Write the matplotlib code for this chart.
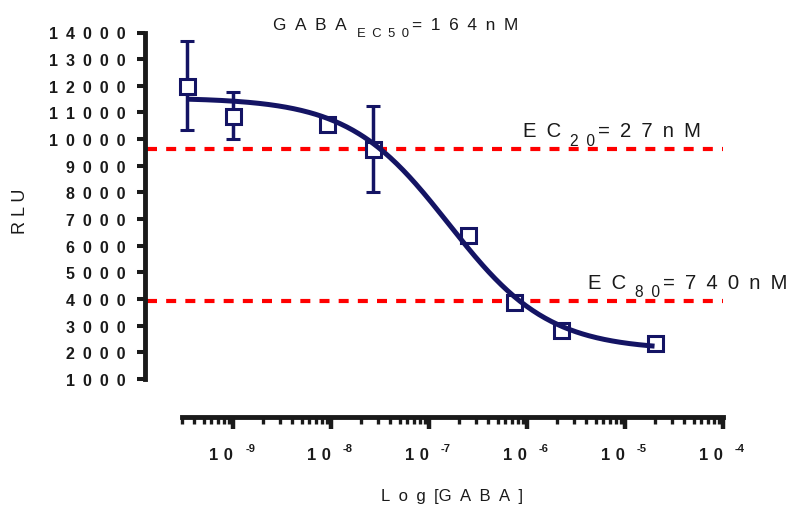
import numpy as np
import matplotlib
matplotlib.use("Agg")
import matplotlib.pyplot as plt
from matplotlib.ticker import LogLocator, NullFormatter

# данные: концентрация GABA (M) и сигнал RLU
conc = [3.4e-10, 1.0e-9, 9.1e-9, 2.7e-8, 2.5e-7, 7.4e-7, 2.2e-6, 2.0e-5]
rlu = [12000, 10870, 10570, 9630, 6400, 3890, 2840, 2350]
rlu_err = [1670, 880, 150, 1630, 200, 150, 100, 120]

# параметры кривой (4PL) с картинки
fit_top = 11550
fit_bottom = 2080
fit_log_ic50 = -6.80
fit_hill = 0.85

ec20_level = 9630
ec80_level = 3940

y_ticks = list(range(1000, 15000, 1000))
x_ticks = [1e-9, 1e-8, 1e-7, 1e-6, 1e-5, 1e-4]

NAVY = "#141464"
RED = "#ff0000"
INK = "#1a1a1a"
EN = "\u2002"

plt.rcParams["font.family"] = ["Liberation Sans", "DejaVu Sans"]


def spaced(s, gap=EN):
    return gap.join(s)


fig = plt.figure(figsize=(7.91, 5.06), dpi=100)
ax = fig.add_axes([182 / 791, 126 / 506, 541 / 791, 346.5 / 506])


def write_parts(x, y, parts):
    # parts: (текст, размер, отступ слева px, сдвиг по вертикали px)
    prev, prev_dy = None, 0
    for text, size, gap, dy in parts:
        if prev is None:
            prev = fig.text(x, y, text, fontsize=size, color=INK,
                            ha="left", va="baseline")
        else:
            prev = ax.annotate(text, xy=(1, 0), xycoords=prev,
                               xytext=(gap * 0.72, (dy - prev_dy) * 0.72),
                               textcoords="offset points",
                               fontsize=size, color=INK, ha="left", va="bottom")
        prev_dy = dy


# пунктирные уровни EC20 / EC80
for lvl in (ec20_level, ec80_level):
    ax.axhline(lvl, xmin=-0.065, xmax=1.0, color=RED, lw=3,
               ls=(0, (2.4, 2.2)), clip_on=False, zorder=1)

# точки с ошибками
ax.errorbar(conc, rlu, yerr=rlu_err, fmt="none", ecolor=NAVY,
            elinewidth=2.5, capsize=5, capthick=2.2, zorder=2, clip_on=False)
ax.plot(conc, rlu, ls="none", marker="s", ms=10.8, mew=2.2,
        mfc="white", mec=NAVY, zorder=3, clip_on=False)

# аппроксимирующая кривая
xs = np.logspace(np.log10(conc[0]), np.log10(conc[-1]), 300)
ys = fit_bottom + (fit_top - fit_bottom) / (1 + 10 ** (fit_hill * (np.log10(xs) - fit_log_ic50)))
ax.plot(xs, ys, color=NAVY, lw=3.6, zorder=4, solid_capstyle="butt")

# оси
ax.set_xscale("log")
ax.set_xlim(3.0e-10, 1e-4)
ax.set_ylim(1000, 14000)
for s in ("top", "right"):
    ax.spines[s].set_visible(False)
ax.spines["left"].set_position(("outward", 26.3))
ax.spines["bottom"].set_position(("outward", 27))
for s in ("left", "bottom"):
    ax.spines[s].set_linewidth(3.5)
    ax.spines[s].set_color(INK)

ax.set_yticks(y_ticks, [spaced(str(v)) for v in y_ticks])
ax.set_xticks(x_ticks, [spaced("10", "\u2004") for _ in x_ticks])
ax.xaxis.set_minor_locator(LogLocator(base=10, subs=np.arange(2, 10), numticks=20))
ax.xaxis.set_minor_formatter(NullFormatter())

ax.tick_params(axis="y", length=6, width=2.9, pad=8.6, color=INK,
               labelsize=11.5, labelcolor=INK)
ax.tick_params(axis="x", which="major", length=8.3, width=3.2, pad=14,
               color=INK, labelsize=12, labelcolor=INK)
ax.tick_params(axis="x", which="minor", length=4.7, width=2.4, color=INK)
for lab in ax.get_yticklabels():
    lab.set_fontweight("bold")
for lab in ax.get_xticklabels():
    lab.set_fontweight("bold")
    lab.set_horizontalalignment("right")

# степени у подписей оси X
for lab, t in zip(ax.get_xticklabels(), x_ticks):
    ax.annotate("-%d" % round(-np.log10(t)), xy=(1, 1), xycoords=lab,
                xytext=(8.6, 2.9), textcoords="offset points",
                fontsize=8, fontweight="bold", color=INK, ha="left", va="top")

ax.set_ylabel("R L U", fontsize=13, color=INK)
ax.yaxis.set_label_coords(-0.282, 0.486)
ax.set_xlabel("L" + EN + "o" + EN + "g" + EN + "[G" + EN + "A" + EN + "B" + EN + "A" + EN + "]",
              fontsize=12, color=INK)
ax.xaxis.set_label_coords(0.4985, -0.315)

# подписи
write_parts(273 / 791, 1 - 30 / 506, [
    (spaced("GABA"), 12.4, 0, 0),
    (spaced("EC50"), 9.4, 10, -6.7),
    ("=" + EN + spaced("164nM"), 12.4, 3, 0),
])
write_parts(523 / 791, 1 - 137 / 506, [
    (spaced("EC"), 14.6, 0, 0),
    (spaced("20"), 11.2, 9, -8),
    ("=" + EN + spaced("27nM"), 14.6, 3, 0),
])
write_parts(588 / 791, 1 - 289.3 / 506, [
    (spaced("EC"), 14.6, 0, 0),
    (spaced("80"), 11.2, 9, -7),
    ("=" + EN + spaced("740nM"), 14.6, 3, 0),
])

fig.savefig("out.png", dpi=100)
